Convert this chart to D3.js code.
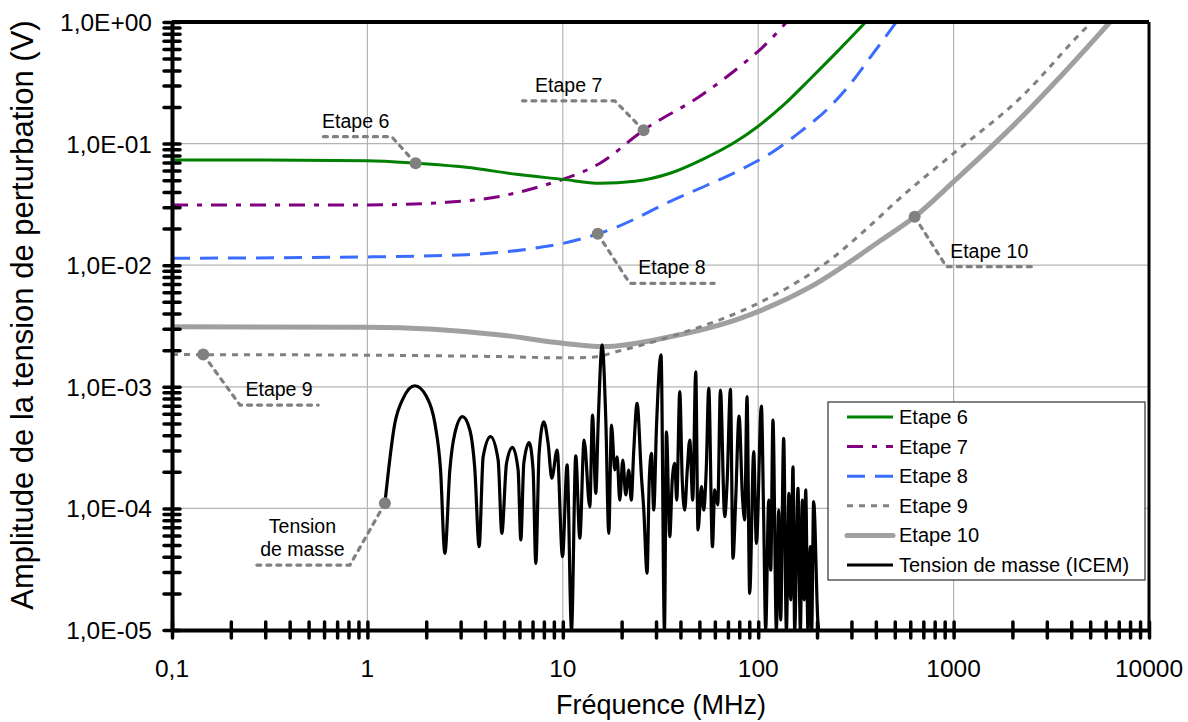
<!DOCTYPE html>
<html><head><meta charset="utf-8">
<script src="https://cdn.jsdelivr.net/npm/d3@7/dist/d3.min.js"></script>
<style>
body{margin:0;background:#fff;}
text{font-family:"Liberation Sans",Arial,sans-serif;fill:#000;}
</style></head>
<body><svg id="c" width="1188" height="722"></svg>
<script>
// ---------- data ----------
const xTickValues = [0.1, 1, 10, 100, 1000, 10000];
const xTickLabels = ["0,1", "1", "10", "100", "1000", "10000"];
const yTickValues = [1, 0.1, 0.01, 0.001, 0.0001, 0.00001];
const yTickLabels = ["1,0E+00", "1,0E-01", "1,0E-02", "1,0E-03", "1,0E-04", "1,0E-05"];

const seriesNames = ["Etape 6", "Etape 7", "Etape 8", "Etape 9", "Etape 10", "Tension de masse (ICEM)"];

// [frequency MHz, amplitude V]
const etape6 = [[0.1,0.0733],[0.3,0.0733],[1,0.0723],[1.77,0.0689],[3.2,0.0638],[5.8,0.0559],[10,0.0508],[15.5,0.0471],[23.4,0.0490],[35.4,0.057],[53.6,0.076],[74.8,0.101],[100,0.139],[133.6,0.205],[186,0.345],[259,0.59],[355,1.0]];
const etape7 = [[0.1,0.0313],[1,0.0313],[2.54,0.0329],[4.76,0.0368],[7.62,0.0443],[10,0.0508],[15.5,0.0689],[25.9,0.129],[51.4,0.251],[86.4,0.472],[104,0.608],[140,1.0]];
const etape8 = [[0.1,0.0114],[1,0.0117],[3.22,0.0122],[6.52,0.0135],[10,0.0151],[15.1,0.0181],[19,0.0207],[36.2,0.0340],[53.6,0.0448],[79.6,0.0600],[118,0.0850],[164,0.125],[229,0.196],[294,0.305],[377,0.52],[483,0.89],[509,1.0]];
const etape9 = [[0.1,0.00184],[1,0.00182],[3,0.00179],[5,0.00177],[10,0.00173],[14,0.00175],[19.6,0.00198],[40.2,0.00275],[92,0.00456],[150,0.0069],[211,0.0098],[350,0.0192],[525,0.0350],[1000,0.0832],[2240,0.245],[4540,0.83],[5100,1.0]];
const etape10 = [[0.1,0.00312],[1,0.00309],[4.8,0.00267],[10,0.00228],[16,0.00214],[35.4,0.00258],[81,0.00366],[186,0.00666],[427,0.0161],[632,0.025],[1000,0.0486],[2240,0.166],[3390,0.333],[6320,1.0]];
const tensionMasse = [
[1.229,1.10e-4],[1.382,5.01e-4],[1.524,8.04e-4],[1.750,1.02e-3],[2.009,8.29e-4],[2.215,5.01e-4],[2.368,2.07e-4],[2.491,4.27e-5],
[2.642,2.07e-4],[2.803,4.15e-4],[3.069,5.68e-4],[3.344,4.41e-4],[3.548,2.07e-4],[3.731,4.84e-5],[3.912,2.66e-4],[4.268,3.89e-4],
[4.667,2.50e-4],[4.875,6.24e-5],[5.152,2.35e-4],[5.530,3.18e-4],[5.906,2.07e-4],[6.098,5.50e-5],[6.317,2.35e-4],[6.724,3.47e-4],
[7.047,2.07e-4],[7.275,3.53e-5],[7.564,2.84e-4],[7.994,5.16e-4],[8.41,3.43e-4],[8.785,1.77e-4],[9.351,3.02e-4],[9.965,4.01e-5],
[10.52,2.28e-4],[11.08,1e-5],[11.65,2.70e-4],[12.22,5.68e-5],[12.85,3.65e-4],[13.75,1.03e-4],[14.19,5.86e-4],[14.75,1.33e-4],
[15.19,5.33e-4],[15.89,2.21e-3],[16.6,5.33e-4],[17.19,6.24e-5],[17.75,4.85e-4],[18.45,2.07e-4],[18.96,2.66e-4],[19.57,1.17e-4],
[20.28,2.50e-4],[21.0,1.29e-4],[21.76,2.07e-4],[22.4,1.17e-4],[23.08,3.02e-4],[23.99,7.32e-4],[25.27,1.82e-4],[25.97,9.70e-5],
[26.99,2.93e-5],[27.7,1.71e-4],[28.43,2.84e-4],[29.2,9.70e-5],[30.16,4.70e-4],[31.83,1.83e-3],[33.13,1e-5],[33.92,4.27e-4],
[35.27,5.85e-5],[36.32,1.71e-4],[37.41,2.35e-4],[38.29,1.17e-4],[39.68,9.12e-4],[40.86,1.71e-4],[42.07,9.70e-5],[43.35,2.07e-4],
[44.63,3.65e-4],[46.24,1.17e-4],[47.89,1.33e-3],[49.2,6.64e-5],[51.22,1.51e-4],[52.62,9.70e-5],[54.2,2.07e-4],[55.84,9.72e-4],
[58.32,4.84e-5],[59.93,1.42e-4],[62.08,1.07e-4],[64.07,9.41e-4],[67.40,8.55e-5],[69.4,1.71e-4],[72.07,9.53e-4],[74.31,3.89e-5],
[76.7,1.17e-4],[79.79,5.75e-4],[83.05,1.25e-4],[85.3,8.03e-5],[87.63,8.29e-4],[90.46,2.00e-5],[94.84,2.93e-4],[97.90,5.16e-5],
[103.8,6.95e-4],[106.7,8.03e-5],[109.2,1e-5],[113.2,1.17e-4],[115.9,3.11e-5],[119.0,5.33e-4],[123.9,1e-5],[127.3,9.70e-5],
[130.3,1.21e-5],[135.0,3.77e-4],[139.4,1e-5],[143.7,1.33e-4],[146.6,1.77e-5],[150.7,2.20e-4],[153.7,1e-5],[159.8,1.46e-4],
[164.4,1e-5],[168.3,1.17e-4],[171.9,1.77e-5],[175.0,1.42e-4],[179.7,1e-5],[184.9,4.84e-5],[187.8,1e-5],[192.2,1.14e-4],
[202.2,1.14e-5],[203.9,1e-5]];

// annotation leaders: [marker, elbow, end] in data coordinates, label lines
const annotations = [
  {lines:["Etape 6"], pts:[[1.765,0.0689],[1.33,0.114],[0.571,0.114]]},
  {lines:["Etape 7"], pts:[[25.9,0.129],[18.45,0.225],[6.22,0.225]]},
  {lines:["Etape 8"], pts:[[15.1,0.0181],[22.0,0.0071],[59.5,0.0071]]},
  {lines:["Etape 9"], pts:[[0.1445,0.00184],[0.2228,7.08e-4],[0.56,7.08e-4]]},
  {lines:["Etape 10"], pts:[[632,0.025],[919,0.00972],[2518,0.00972]]},
  {lines:["Tension","de masse"], pts:[[1.229,1.10e-4],[0.814,3.42e-5],[0.2658,3.42e-5]]}
];

// ---------- drawing ----------
const svg = d3.select("#c");
const L=172, R=1149, T=22, B=630;
const x = d3.scaleLog().domain([0.1,10000]).range([L,R]);
const y = d3.scaleLog().domain([1e-5,1]).range([B,T]);

// grid
svg.append("g").selectAll("line").data(xTickValues.slice(1,-1)).join("line")
  .attr("x1",d=>x(d)).attr("x2",d=>x(d)).attr("y1",T).attr("y2",B)
  .attr("stroke","#b4b4b4").attr("stroke-width",1.2);
svg.append("g").selectAll("line").data(yTickValues.slice(1,-1)).join("line")
  .attr("y1",d=>y(d)).attr("y2",d=>y(d)).attr("x1",L).attr("x2",R)
  .attr("stroke","#b4b4b4").attr("stroke-width",1.2);

svg.append("clipPath").attr("id","clip").append("rect")
  .attr("x",L).attr("y",T).attr("width",R-L).attr("height",B-T);

const styles = [
  {data:etape10, color:"#a0a0a0", w:5, dash:null},
  {data:etape9, color:"#808080", w:3, dash:"6,6"},
  {data:etape8, color:"#3a6dff", w:3, dash:"18,10"},
  {data:etape7, color:"#800080", w:3, dash:"16,9,5,9"},
  {data:etape6, color:"#008000", w:3, dash:null}
];
const smooth = d3.line().x(d=>x(d[0])).y(d=>y(d[1])).curve(d3.curveMonotoneX);
const lin = d3.line().x(d=>x(d[0])).y(d=>y(d[1]));
const gPlot = svg.append("g").attr("clip-path","url(#clip)");
styles.forEach(s=>{
  gPlot.append("path").attr("d",smooth(s.data)).attr("fill","none")
    .attr("stroke",s.color).attr("stroke-width",s.w)
    .attr("stroke-dasharray",s.dash);
});
gPlot.append("path").attr("d",smooth(tensionMasse)).attr("fill","none")
  .attr("stroke","#000").attr("stroke-width",3.2).attr("stroke-linejoin","round");

// annotations
const gA = svg.append("g");
annotations.forEach(a=>{
  gA.append("path").attr("d",lin(a.pts)).attr("fill","none")
    .attr("stroke","#808080").attr("stroke-width",3.2)
    .attr("stroke-dasharray","4,6").attr("stroke-linecap","round");
  gA.append("circle").attr("cx",x(a.pts[0][0])).attr("cy",y(a.pts[0][1]))
    .attr("r",6).attr("fill","#808080");
  const mx=(x(a.pts[1][0])+x(a.pts[2][0]))/2, ly=y(a.pts[2][1]);
  a.lines.slice().reverse().forEach((t,i)=>{
    gA.append("text").attr("x",mx).attr("y",ly-9-i*23)
      .attr("text-anchor","middle").attr("font-size",19.5).text(t);
  });
});

// axes: ticks crossing the axes
const xAx = svg.append("g").attr("transform",`translate(0,${B})`)
  .call(d3.axisBottom(x).tickValues(x.ticks()).tickSize(8).tickSizeOuter(0).tickFormat(""));
const yAx = svg.append("g").attr("transform",`translate(${L},0)`)
  .call(d3.axisLeft(y).tickValues(y.ticks()).tickSize(8).tickSizeOuter(0).tickFormat(""));
[xAx,yAx].forEach(g=>{
  g.select(".domain").attr("stroke","#000").attr("stroke-width",4);
});
xAx.selectAll(".tick line").attr("y1",-8).attr("y2",8).attr("stroke","#000").attr("stroke-width",3.5).attr("stroke-linecap","round");
yAx.selectAll(".tick line").attr("x1",-8).attr("x2",8).attr("stroke","#000").attr("stroke-width",3.5).attr("stroke-linecap","round");
// top and right border
svg.append("line").attr("x1",L).attr("x2",R).attr("y1",T).attr("y2",T).attr("stroke","#000").attr("stroke-width",4);
svg.append("line").attr("x1",R).attr("x2",R).attr("y1",T).attr("y2",B).attr("stroke","#000").attr("stroke-width",3);

// tick labels
svg.append("g").selectAll("text").data(xTickValues).join("text")
  .attr("x",d=>x(d)).attr("y",677).attr("text-anchor","middle").attr("font-size",24.5)
  .text((d,i)=>xTickLabels[i]);
svg.append("g").selectAll("text").data(yTickValues).join("text")
  .attr("x",152).attr("y",d=>y(d)+9).attr("text-anchor","end").attr("font-size",24.5)
  .text((d,i)=>yTickLabels[i]);

// axis titles
svg.append("text").attr("x",661).attr("y",714).attr("text-anchor","middle")
  .attr("font-size",27).text("Fréquence (MHz)");
svg.append("text").attr("transform",`translate(33,315) rotate(-90)`)
  .attr("text-anchor","middle").attr("font-size",31)
  .text("Amplitude de la tension de perturbation (V)");

// legend
const lg = svg.append("g");
lg.append("rect").attr("x",828).attr("y",402).attr("width",317).attr("height",178)
  .attr("fill","#fff").attr("stroke","#404040").attr("stroke-width",1.3);
const legStyles = [styles[4],styles[3],styles[2],styles[1],styles[0],{color:"#000",w:3,dash:null}];
seriesNames.forEach((n,i)=>{
  const yy = 417 + i*29.6;
  const s = legStyles[i];
  lg.append("line").attr("x1",847).attr("x2",893).attr("y1",yy).attr("y2",yy)
    .attr("stroke",s.color).attr("stroke-width",s.w).attr("stroke-dasharray",s.dash)
    .attr("stroke-linecap", s.w>=5?"round":"butt");
  lg.append("text").attr("x",899).attr("y",yy+7).attr("font-size",20).text(n);
});
</script></body></html>
